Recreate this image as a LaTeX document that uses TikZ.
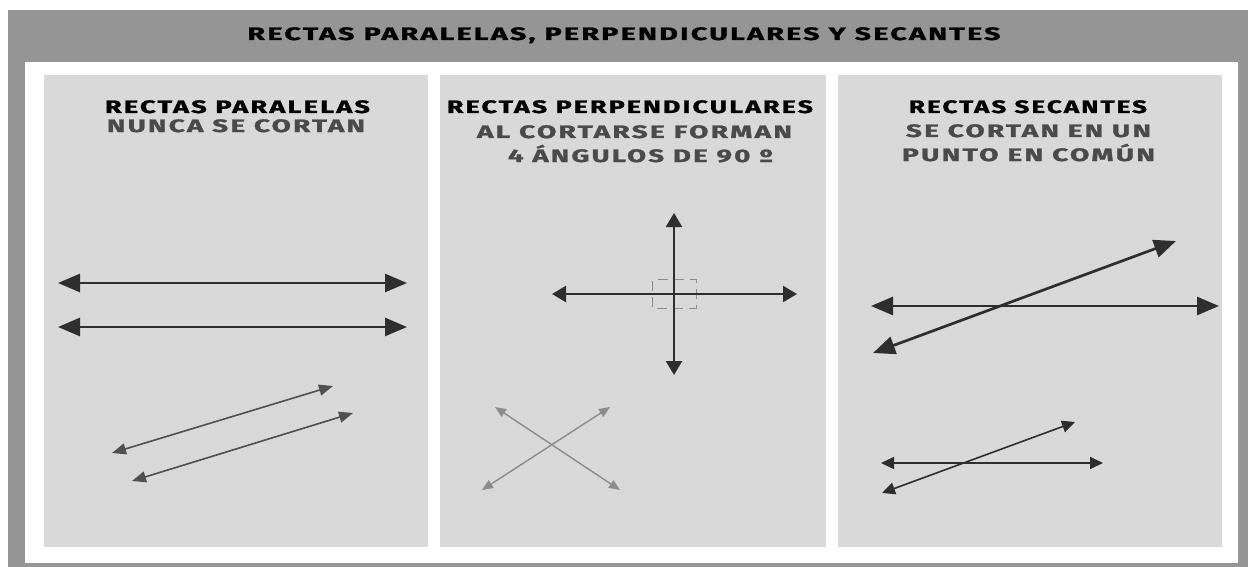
\documentclass[tikz,border=0pt]{standalone}
\usepackage{fontspec}
\setmainfont{Fira Sans}
\usetikzlibrary{arrows.meta}
\definecolor{marco}{HTML}{959595}
\definecolor{panel}{HTML}{D9D9D9}
\definecolor{osc}{HTML}{2E2E2E}
\definecolor{med}{HTML}{505050}
\definecolor{cla}{HTML}{8C8C8C}
\definecolor{sub}{HTML}{4A4A4A}
\newcommand{\rotulo}[2]{\resizebox{#1}{\height}{#2}}

\begin{document}
\begin{tikzpicture}[x=1pt,y=-1pt]
  \tikzstyle{every node}=[inner sep=0pt,anchor=base,font=\fontsize{18}{21}\selectfont\bfseries\addfontfeatures{LetterSpace=8,FakeBold=1.2}]
  \tikzstyle{subt}=[text=sub]
  \tikzstyle{gruesa}=[line width=2.7pt,color=osc,{Triangle[length=22pt,width=18pt]}-{Triangle[length=22pt,width=18pt]}]
  \tikzstyle{media}=[line width=2.3pt,color=osc,{Triangle[length=14pt,width=16pt]}-{Triangle[length=14pt,width=16pt]}]
  \tikzstyle{fina}=[line width=1.6pt,color=med,{Triangle[length=14pt,width=11pt]}-{Triangle[length=14pt,width=11pt]}]
  \tikzstyle{gris}=[line width=1.4pt,color=cla,{Triangle[length=11pt,width=9pt]}-{Triangle[length=11pt,width=9pt]}]
  \tikzstyle{chica}=[line width=1.6pt,color=osc,{Triangle[length=13pt,width=12pt]}-{Triangle[length=13pt,width=12pt]}]
  % marco y paneles
  \useasboundingbox (0,0) rectangle (1248,567);
  \fill[white] (0,0) rectangle (1248,567);
  \fill[marco] (8,10) rectangle (1248,567);
  \fill[white] (25,62) rectangle (1238,563);
  \fill[panel] (44,75) rectangle (428,547);
  \fill[panel] (440,75) rectangle (826,547);
  \fill[panel] (838,75) rectangle (1222,547);
  % textos
  \node (titulo) at (624,40) {\rotulo{753pt}{RECTAS PARALELAS, PERPENDICULARES Y SECANTES}};
  \node (par1) at (237.5,113) {\rotulo{265pt}{RECTAS PARALELAS}};
  \node[subt] (par2) at (236,132) {\rotulo{258pt}{NUNCA SE CORTAN}};
  \node (per1) at (630,113) {\rotulo{366pt}{RECTAS PERPENDICULARES}};
  \node[subt] (per2) at (634.5,138) {\rotulo{315pt}{AL CORTARSE FORMAN}};
  \node[subt] (per3) at (640.5,162) {\rotulo{265pt}{4 ÁNGULOS DE 90 º}};
  \node (sec1) at (1028,113) {\rotulo{238pt}{RECTAS SECANTES}};
  \node[subt] (sec2) at (1028.5,137) {\rotulo{245pt}{SE CORTAN EN UN}};
  \node[subt] (sec3) at (1028.5,161) {\rotulo{253pt}{PUNTO EN COMÚN}};
  % paralelas
  \draw[gruesa] (58,283) -- (407,283);
  \draw[gruesa] (58,327) -- (407,327);
  \draw[fina] (112,453) -- (333,386);
  \draw[fina] (132,481) -- (353,413);
  % perpendiculares
  \draw[cla,line width=1pt,dash pattern=on 10pt off 6pt,dash phase=-2pt] (652,279) rectangle (696,308);
  \draw[media] (674,213) -- (674,375);
  \draw[media] (552,294) -- (797,294);
  \draw[gris] (495,407) -- (620,490);
  \draw[gris] (482,490) -- (610,407);
  % secantes
  \draw[gruesa] (871,306) -- (1219,306);
  \draw[gruesa] (873,353) -- (1176,241);
  \draw[chica] (881,463) -- (1103,463);
  \draw[chica] (882,493) -- (1075,422);
\end{tikzpicture}
\end{document}
